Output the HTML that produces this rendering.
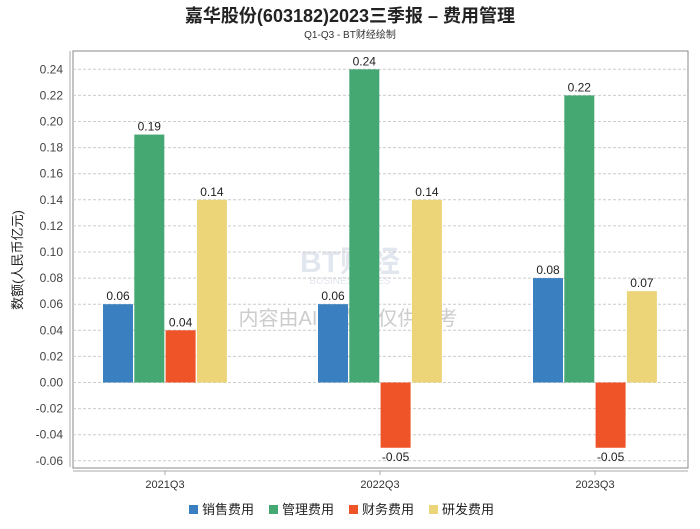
<!DOCTYPE html>
<html><head><meta charset="utf-8"><style>
body{margin:0;background:#fff;font-family:"Liberation Sans","Noto Sans CJK SC",sans-serif}
</style></head><body>
<svg id="c" width="700" height="524" xmlns="http://www.w3.org/2000/svg" style="font-family:'Liberation Sans','Noto Sans CJK SC',sans-serif">
<text x="350" y="22" text-anchor="middle" font-size="18" font-weight="bold" fill="#222">嘉华股份(603182)2023三季报 – 费用管理</text>
<text x="350" y="38" text-anchor="middle" font-size="10" fill="#333">Q1-Q3 - BT财经绘制</text>
<text x="350" y="272" text-anchor="middle" font-size="30" font-weight="bold" fill="#e2e6ee">BT财经</text>
<text x="350" y="284" text-anchor="middle" font-size="10" fill="#e2e6ee">BUSINESSTIMES</text>
<text x="348" y="325" text-anchor="middle" font-size="20" fill="#ccc">内容由AI生成，仅供参考</text>
<rect x="73" y="51" width="615" height="417" fill="none" stroke="#888"/>
<line x1="70" y1="51" x2="70" y2="467" stroke="#aaa"/>
<line x1="73" y1="471" x2="688" y2="471" stroke="#aaa"/>
<text transform="translate(22,260) rotate(-90)" text-anchor="middle" font-size="13" fill="#222">数额(人民币亿元)</text>
<g id="grid"></g><g id="bars"></g><g id="legend"></g>
</svg>
<script>
const categories=["2021Q3","2022Q3","2023Q3"];
const seriesNames=["销售费用","管理费用","财务费用","研发费用"];
const colors=["#3a7fc0","#45a873","#ef5428","#ecd479"];
const sales=[0.06,0.06,0.08];
const admin=[0.19,0.24,0.22];
const finance=[0.04,-0.05,-0.05];
const rnd=[0.14,0.14,0.07];
const yTicks=[-0.06,-0.04,-0.02,0,0.02,0.04,0.06,0.08,0.10,0.12,0.14,0.16,0.18,0.20,0.22,0.24];
const NS="http://www.w3.org/2000/svg";
const y=v=>382.5-v*1305;
const xc=i=>165+i*215;
function mk(t,a,p){const e=document.createElementNS(NS,t);for(const k in a)e.setAttribute(k,a[k]);p.appendChild(e);return e;}
const grid=document.getElementById('grid');
yTicks.forEach(v=>{
 const l=mk('line',{x1:73,x2:688,y1:y(v),y2:y(v),stroke:'#ccc','stroke-dasharray':'3,2'},grid);
 
 
 const t=mk('text',{x:63,y:y(v)+4,'text-anchor':'end','font-size':12,fill:'#444'},grid);
 t.textContent=v.toFixed(2);
 
 
});
categories.forEach((c,i)=>{
 const tk=mk('line',{x1:xc(i),x2:xc(i),y1:471,y2:475,stroke:'#aaa'},grid);
 
 
 const t=mk('text',{x:xc(i),y:488,'text-anchor':'middle','font-size':11,fill:'#333'},grid);
 t.textContent=c;
 
 
});
const bars=document.getElementById('bars');
[sales,admin,finance,rnd].forEach((s,j)=>{
 s.forEach((v,i)=>{
  const x=xc(i)-62+j*31.3;
  const r=mk('rect',{x:x,y:Math.min(y(v),y(0)),width:30,height:Math.abs(y(v)-y(0)),fill:colors[j]},bars);
  
  
  const t=mk('text',{x:x+15,y:v>=0?y(v)-4:y(v)+13,'text-anchor':'middle','font-size':12,fill:'#222'},bars);
  t.textContent=v.toFixed(2);
  
  
 });
});
const lg=document.getElementById('legend');
seriesNames.forEach((n,j)=>{
 const x=189+j*80;
 const r=mk('rect',{x:x,y:505,width:9,height:9,fill:colors[j]},lg);
 
 
 const t=mk('text',{x:x+13,y:514,'font-size':13,fill:'#222'},lg);
 t.textContent=n;
 
 
});
</script>
</body></html>
